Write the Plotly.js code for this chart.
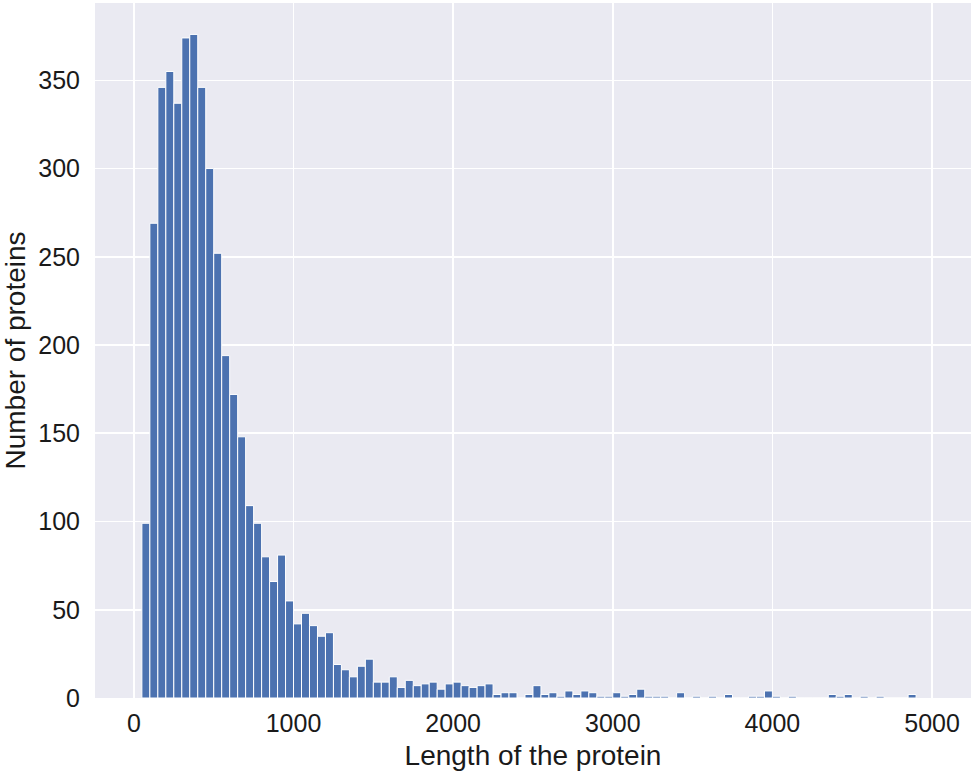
<!DOCTYPE html>
<html>
<head>
<meta charset="utf-8">
<script src="https://cdn.plot.ly/plotly-3.0.1.min.js"></script>
<style>
  html, body { margin: 0; padding: 0; background: #ffffff; }
  #histPlot { width: 974px; height: 774px; }
</style>
</head>
<body>
<div id="histPlot"></div>
<script>
// histogram of protein lengths, bins of 50 starting at 50
const binStart = 50;
const binWidth = 50;
const counts = [
    99, 269, 346, 355, 337, 374, 376, 346, 300, 252,
    194, 172, 148, 109, 99, 80, 66, 81, 55, 42,
    48, 41, 35, 37, 19, 16, 12, 18, 22, 9,
    9, 12, 6, 10, 7, 8, 9, 5, 8, 9,
    7, 6, 7, 8, 2, 3, 3, 0, 2, 7,
    2, 3, 1, 4, 2, 4, 3, 1, 1, 3,
    1, 2, 5, 1, 1, 1, 0, 3, 0, 1,
    0, 1, 0, 2, 0, 0, 1, 1, 4, 1,
    0, 1, 0, 0, 0, 0, 2, 1, 2, 0,
    1, 0, 1, 0, 0, 0, 2
];
const xTicks = [0, 1000, 2000, 3000, 4000, 5000];
const yTicks = [0, 50, 100, 150, 200, 250, 300, 350];

let histTrace = {
    type: 'bar',
    x0: binStart + binWidth / 2,
    dx: binWidth,
    y: counts,
    width: binWidth,
    marker: {
        color: '#4C72B0',
        line: {color: '#ffffff', width: 1}
    },
    hoverinfo: 'x+y'
};

let tickFont = {family: 'Arial, "Liberation Sans", sans-serif', size: 25, color: '#1a1a1a'};
let labelFont = {family: 'Arial, "Liberation Sans", sans-serif', size: 28, color: '#1a1a1a'};

let layout = {
    width: 974,
    height: 774,
    margin: {l: 95, r: 3, t: 3, b: 76},
    paper_bgcolor: '#ffffff',
    plot_bgcolor: '#EAEAF2',
    bargap: 0,
    showlegend: false,
    xaxis: {
        range: [-243.7, 5244],
        tickvals: xTicks,
        ticktext: xTicks.map(String),
        showgrid: true,
        gridcolor: '#ffffff',
        gridwidth: 1.6,
        zeroline: false,
        showline: false,
        ticks: '',
        ticklabelstandoff: 8,
        tickfont: tickFont,
        automargin: false,
        title: {text: 'Length of the protein', font: labelFont, standoff: 9}
    },
    yaxis: {
        range: [0, 393.8],
        tickvals: yTicks,
        ticktext: yTicks.map(String),
        showgrid: true,
        gridcolor: '#ffffff',
        gridwidth: 1.6,
        zeroline: false,
        showline: false,
        ticks: '',
        ticklabelstandoff: 14,
        tickfont: tickFont,
        automargin: false,
        title: {text: 'Number of proteins', font: labelFont, standoff: 8}
    }
};

Plotly.newPlot('histPlot', [histTrace], layout, {displayModeBar: false, staticPlot: true});
</script>
</body>
</html>
